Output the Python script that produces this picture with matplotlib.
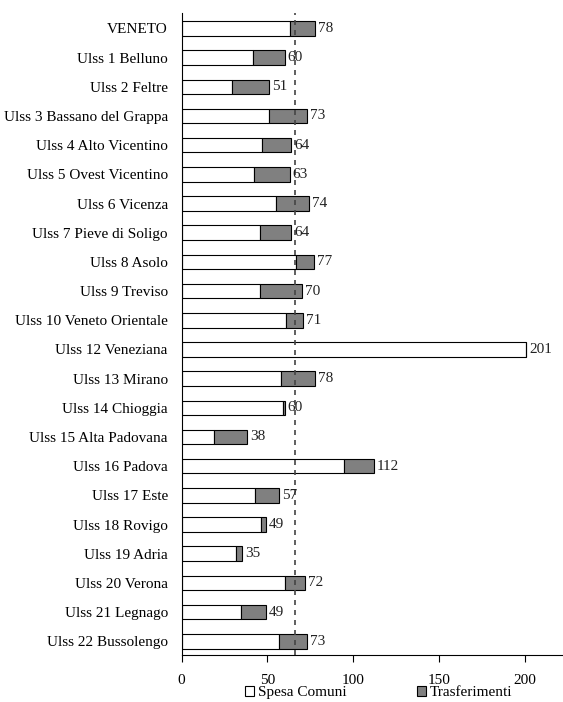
import matplotlib
matplotlib.use("Agg")
from matplotlib import pyplot as plt
from matplotlib.patches import Patch

plt.rcParams['font.family'] = ['Liberation Serif', 'DejaVu Serif']
plt.rcParams['font.size'] = 11

areas = ["VENETO", "Ulss 1 Belluno", "Ulss 2 Feltre", "Ulss 3 Bassano del Grappa",
         "Ulss 4 Alto Vicentino", "Ulss 5 Ovest Vicentino", "Ulss 6 Vicenza",
         "Ulss 7 Pieve di Soligo", "Ulss 8 Asolo", "Ulss 9 Treviso",
         "Ulss 10 Veneto Orientale", "Ulss 12 Veneziana", "Ulss 13 Mirano",
         "Ulss 14 Chioggia", "Ulss 15 Alta Padovana", "Ulss 16 Padova",
         "Ulss 17 Este", "Ulss 18 Rovigo", "Ulss 19 Adria", "Ulss 20 Verona",
         "Ulss 21 Legnago", "Ulss 22 Bussolengo"]
spesa = [63.3, 41.5, 29.6, 50.9, 46.6, 42.3, 55.0, 45.4, 66.8, 45.8, 60.8,
         201.0, 57.9, 59.0, 18.9, 94.5, 43.0, 46.0, 31.6, 60.2, 34.5, 57.0]
trasf = [14.7, 18.5, 21.4, 22.1, 17.4, 20.7, 19.0, 18.6, 10.2, 24.2, 10.2,
         0.0, 20.1, 1.0, 19.1, 17.5, 14.0, 3.0, 3.4, 11.8, 14.5, 16.0]
media = 66.3

fig = plt.figure(figsize=(5.63, 7.02), dpi=100)
ax = fig.add_axes([0.3227, 0.067, 0.676, 0.9145])

y = range(len(areas))
ax.barh(y, spesa, height=0.5, color="white", edgecolor="black", linewidth=0.8)
ax.barh(y, trasf, left=spesa, height=0.5, color="#808080", edgecolor="black", linewidth=0.8)

for i in y:
    tot = spesa[i] + trasf[i]
    ax.text(tot + 1.8, i, f"{tot:.0f}", va="center", ha="left", color="#222222")

ax.axvline(media, color="#444444", linestyle=(0, (3, 3)), linewidth=1.2)

ax.set_xlim(0, 222)
ax.set_ylim(len(areas) - 0.53, -0.53)
ax.set_yticks(list(y))
ax.set_yticklabels(areas)
ax.set_xticks([0, 50, 100, 150, 200])
ax.tick_params(axis="y", length=0, pad=10)
ax.tick_params(axis="x", length=5, direction="out", pad=9)

for s in ["top", "right"]:
    ax.spines[s].set_visible(False)

handles = [Patch(facecolor="white", edgecolor="black", linewidth=0.8),
           Patch(facecolor="#808080", edgecolor="black", linewidth=0.8)]
fig.legend(handles, ["Spesa Comuni", "Trasferimenti"], loc="center",
           bbox_to_anchor=(0.672, 0.013), ncol=2, frameon=False,
           handlelength=0.6, handleheight=0.6, handletextpad=0.25,
           columnspacing=4.6, borderpad=0)

fig.savefig("out.png", dpi=100)
